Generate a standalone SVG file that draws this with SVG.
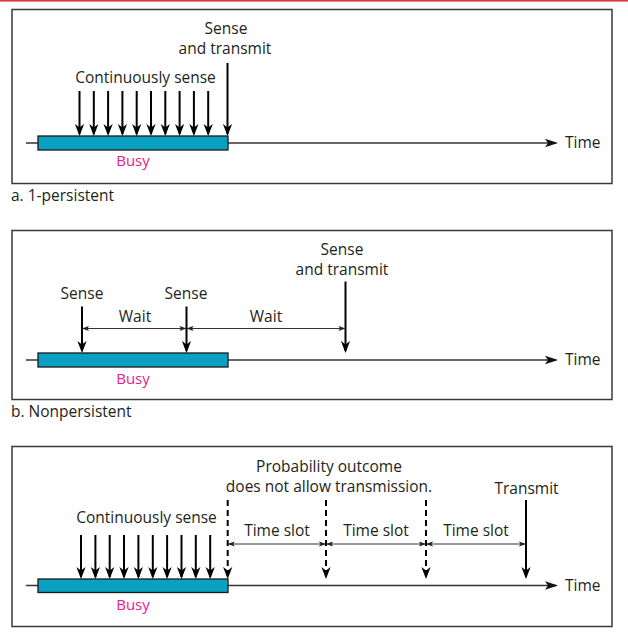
<svg xmlns="http://www.w3.org/2000/svg" width="628" height="634" viewBox="0 0 628 634">
<style>
text{font-family:"Open Sans","Liberation Sans",sans-serif;font-size:15.5px;fill:#231f20}
.c{text-anchor:middle}
.busy{fill:#e6218c;font-size:15px}
.frame{fill:#fff;stroke:#3a3a3a;stroke-width:1.5}
.bar{fill:#0aa0c2;stroke:#1a1a1a;stroke-width:1.3}
.tl{stroke:#333;stroke-width:1.3;fill:none;marker-end:url(#ta)}
.ar{stroke:#000;stroke-width:2;fill:none;marker-end:url(#ah)}
.da{stroke:#000;stroke-width:2;fill:none;stroke-dasharray:6 4;marker-end:url(#ah)}
.dim{stroke:#333;stroke-width:1;fill:none;marker-start:url(#sm);marker-end:url(#sm)}
</style>
<defs>
<marker id="ah" viewBox="-11 -5 14 10" refX="0" refY="0" markerWidth="14" markerHeight="10" markerUnits="userSpaceOnUse" orient="auto"><path d="M2,0 L-10,-4.6 L-6.5,0 L-10,4.6 Z" fill="#000"/></marker>
<marker id="ta" viewBox="-12 -5 15 10" refX="0" refY="0" markerWidth="15" markerHeight="10" markerUnits="userSpaceOnUse" orient="auto"><path d="M2,0 L-11,-4.2 L-8,0 L-11,4.2 Z" fill="#111"/></marker>
<marker id="sm" viewBox="-7 -3 9 6" refX="0" refY="0" markerWidth="9" markerHeight="6" markerUnits="userSpaceOnUse" orient="auto-start-reverse"><path d="M1,0 L-6,-2.6 L-4.5,0 L-6,2.6 Z" fill="#222"/></marker>
</defs>
<rect x="0" y="0" width="628" height="1.6" fill="#d93a3a"/>

<g id="panel-a">
<rect class="frame" x="12" y="9.5" width="600" height="174"/>
<g id="a-timeline">
<path class="tl" d="M26,143 H556"/>
<text x="565" y="148">Time</text>
</g>
<g id="a-busy">
<rect class="bar" x="38" y="136" width="190" height="14"/>
<text class="busy c" x="133" y="166">Busy</text>
</g>
<g id="a-sense">
<text class="c" x="145.5" y="83">Continuously sense</text>
</g>
<g id="a-transmit">
<text class="c" x="226" y="34">Sense</text>
<text class="c" x="225" y="54">and transmit</text>
</g>
<text x="11" y="201">a. 1-persistent</text>
</g>

<g id="panel-b">
<rect class="frame" x="12" y="230.5" width="600" height="169"/>
<g id="b-timeline">
<path class="tl" d="M26,360 H556"/>
<text x="565" y="365">Time</text>
</g>
<g id="b-busy">
<rect class="bar" x="38" y="353" width="190" height="14"/>
<text class="busy c" x="133" y="384">Busy</text>
</g>
<g id="b-sense1"><text class="c" x="82" y="299">Sense</text></g>
<g id="b-sense2"><text class="c" x="186" y="299">Sense</text></g>
<g id="b-transmit">
<text class="c" x="342" y="255">Sense</text>
<text class="c" x="342" y="275">and transmit</text>
</g>
<g id="b-wait1"><text class="c" x="135" y="322">Wait</text></g>
<g id="b-wait2"><text class="c" x="266" y="322">Wait</text></g>
<text x="11" y="417">b. Nonpersistent</text>
</g>

<g id="panel-c">
<rect class="frame" x="12" y="446.5" width="600" height="180"/>
<g id="c-timeline">
<path class="tl" d="M26,585.5 H556"/>
<text x="565" y="591">Time</text>
</g>
<g id="c-busy">
<rect class="bar" x="38" y="579" width="190" height="13.5"/>
<text class="busy c" x="133" y="610">Busy</text>
</g>
<g id="c-sense"><text class="c" x="146.5" y="523">Continuously sense</text></g>
<g id="c-outcome">
<text class="c" x="329" y="472">Probability outcome</text>
<text class="c" x="329" y="492">does not allow transmission.</text>
</g>
<g id="c-transmit"><text class="c" x="526.5" y="493.5">Transmit</text></g>
<g id="c-slot1"><text class="c" x="277" y="536">Time slot</text></g>
<g id="c-slot2"><text class="c" x="376" y="536">Time slot</text></g>
<g id="c-slot3"><text class="c" x="476" y="536">Time slot</text></g>
</g>

<g id="connectors">
<path class="ar" d="M79.5,91 V134"/>
<path class="ar" d="M93.8,91 V134"/>
<path class="ar" d="M108.1,91 V134"/>
<path class="ar" d="M122.4,91 V134"/>
<path class="ar" d="M136.7,91 V134"/>
<path class="ar" d="M151,91 V134"/>
<path class="ar" d="M165.3,91 V134"/>
<path class="ar" d="M179.6,91 V134"/>
<path class="ar" d="M193.9,91 V134"/>
<path class="ar" d="M208.2,91 V134"/>
<path class="ar" d="M227.5,63 V134"/>

<path class="ar" d="M82,306.5 V351"/>
<path class="ar" d="M186.5,306.5 V351"/>
<path class="ar" d="M345.5,281.5 V351"/>
<path class="dim" d="M83,328.5 H185.5"/>
<path class="dim" d="M187.5,328.5 H344.5"/>

<path class="ar" d="M81,535 V577"/>
<path class="ar" d="M95.4,535 V577"/>
<path class="ar" d="M109.7,535 V577"/>
<path class="ar" d="M124,535 V577"/>
<path class="ar" d="M138.4,535 V577"/>
<path class="ar" d="M152.8,535 V577"/>
<path class="ar" d="M167.1,535 V577"/>
<path class="ar" d="M181.5,535 V577"/>
<path class="ar" d="M195.8,535 V577"/>
<path class="ar" d="M210.2,535 V577"/>
<path class="da" d="M227.7,500 V577"/>
<path class="da" d="M326,500 V577"/>
<path class="da" d="M426,500 V577"/>
<path class="ar" d="M526,500 V577"/>
<path class="dim" d="M228.7,544 H325"/>
<path class="dim" d="M327,544 H425"/>
<path class="dim" d="M427,544 H525"/>
</g>
</svg>
